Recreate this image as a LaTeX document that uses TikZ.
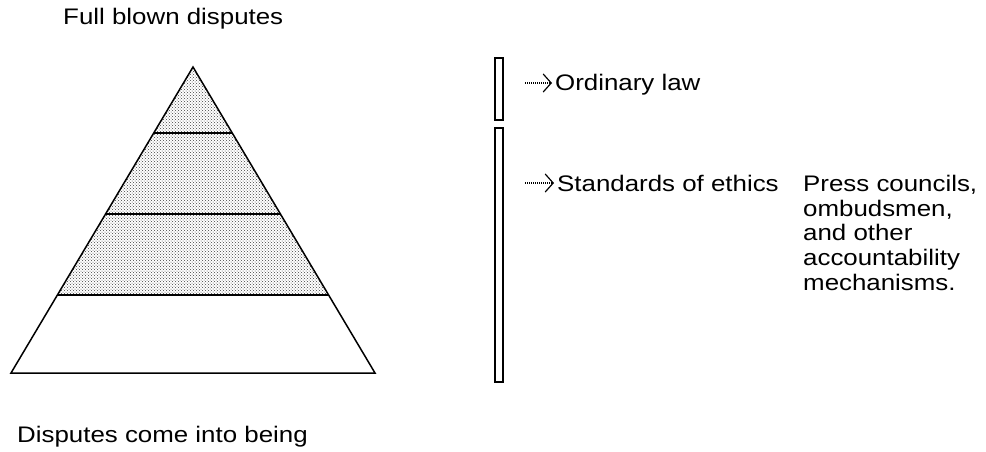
\documentclass[tikz,border=0pt]{standalone}
\usepackage{fontspec}
\setmainfont{Liberation Sans}[FakeStretch=1.15]
\usetikzlibrary{arrows.meta,patterns,calc,positioning}

\tikzset{
  label text/.style={anchor=base west, inner sep=0pt},
  pointer/.style={line width=1.5pt, dash pattern=on 1.2pt off 0.8pt,
    -{Straight Barb[length=8pt,width=18pt,line width=1.2pt]}, shorten >=3pt},
  bar/.style={draw, line width=1.2pt, fill=white},
}

\begin{document}
\begin{tikzpicture}[x=1pt, y=-1pt, font=\fontsize{22.5}{24.7}\selectfont]
  \useasboundingbox (0,0) rectangle (986,451);
  % pyramid
  \coordinate (apex) at (193,67);
  \coordinate (bl) at (11,373);
  \coordinate (br) at (375,373);
  \coordinate (l1) at ($(apex)!0.2157!(bl)$);
  \coordinate (r1) at ($(apex)!0.2157!(br)$);
  \coordinate (l2) at ($(apex)!0.4804!(bl)$);
  \coordinate (r2) at ($(apex)!0.4804!(br)$);
  \coordinate (l3) at ($(apex)!0.7451!(bl)$);
  \coordinate (r3) at ($(apex)!0.7451!(br)$);
  \fill[pattern=crosshatch dots, pattern color=black!75] (apex) -- (l3) -- (r3) -- cycle;
  \draw[line width=1.5pt] (apex) -- (bl) -- (br) -- cycle;
  \draw[line width=1.5pt] (l1) -- (r1);
  \draw[line width=1.5pt] (l2) -- (r2);
  \draw[line width=1.5pt] (l3) -- (r3);
  \node[label text] (full) at (63,24) {Full blown disputes};
  \node[label text] (begin) at (17,442) {Disputes come into being};
  % bars
  \draw[bar] (495,58) rectangle (503,120);
  \draw[bar] (495,128) rectangle (503,382);
  % levels
  \node[label text] (law) at (555,90) {Ordinary law};
  \node[label text] (ethics) at (557,191) {Standards of ethics};
  \node[anchor=north west, inner sep=0pt, align=left] (mech) at (803,175)
    {Press councils,\\ombudsmen,\\and other\\accountability\\mechanisms.};
  \coordinate (lawtail) at (525,83);
  \coordinate (ethicstail) at (525,183);
  \draw[pointer] (lawtail) -- (law.west |- lawtail);
  \draw[pointer] (ethicstail) -- (ethics.west |- ethicstail);
\end{tikzpicture}
\end{document}
